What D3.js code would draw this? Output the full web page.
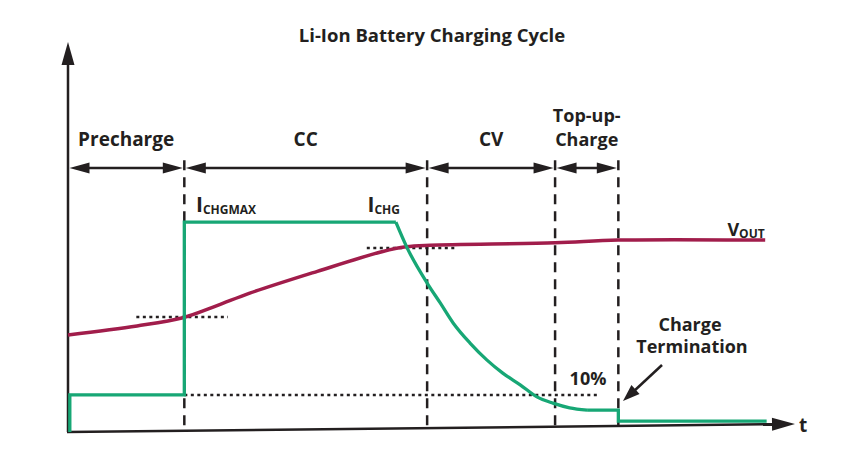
<!DOCTYPE html>
<html>
<head>
<meta charset="utf-8">
<script src="https://cdn.jsdelivr.net/npm/d3@7/dist/d3.min.js"></script>
<style>
  html, body { margin: 0; padding: 0; background: #fff; }
  svg { display: block; }
  text { font-family: "Open Sans", Roboto, sans-serif; font-weight: 700; fill: #231f20; }
</style>
</head>
<body>
<svg id="chart" width="841" height="449"></svg>
<script>
// ---- data (time units 0..100, level units 0..100) ----
const title = "Li-Ion Battery Charging Cycle";
const phaseNames = ["Precharge", "CC", "CV", "Top-up-Charge"];
const phaseBounds = [0, 16, 49.4, 67, 75.7];
const dividerTimes = [16, 49.4, 67, 75.7];
const ichgStep = [[0.25, 0], [0.25, 9.5], [16, 9.5], [16, 53.8], [45.1, 53.8]];
const ichgDecay = [[45.1, 53.8], [46.6, 47.4], [49.4, 38.2], [51.2, 33.1], [53.0, 27.9], [55.3, 22.8],
                   [57.6, 18.5], [59.8, 15.1], [62.2, 12.1], [64.5, 9.0], [66.7, 7.4], [69.0, 6.2], [71.4, 5.6]];
const ichgTail = [[71.4, 5.6], [75.7, 5.6], [75.7, 2.8], [96.1, 2.8]];
const vout = [[0, 24.9], [9.5, 27.2], [15.8, 29.3], [20.5, 32.4], [25, 35.6], [34.3, 41.2], [43.3, 46.3],
              [46.5, 47.5], [49.8, 47.9], [67, 48.5], [75.7, 49.2], [95.9, 49.2]];
const refLines = [[9.4, 22.0, 29.5], [41.1, 53.6, 47.2], [16, 73.2, 9.5]]; // x0, x1, level
const xAxisEnd = [100, 2.05];

const GREEN = "#17a775", RED = "#a11d4b", INK = "#231f20";

const svg = d3.select("#chart");
const x = d3.scaleLinear().domain([0, 100]).range([68, 795]);
const y = d3.scaleLinear().domain([0, 100]).range([432, 42]);

function arrowHead(g, tx, ty, dx, dy, len, hw, color) {
  const n = Math.hypot(dx, dy); dx /= n; dy /= n;
  const bx = tx - dx * len, by = ty - dy * len;
  const px = -dy, py = dx;
  g.append("path")
    .attr("d", `M${tx},${ty}L${bx + px * hw},${by + py * hw}L${bx - px * hw},${by - py * hw}Z`)
    .attr("fill", color || INK);
}

// title
svg.append("text").attr("x", 432).attr("y", 42).attr("text-anchor", "middle")
  .attr("font-size", 18.5).text(title);

// axes
const ax = svg.append("g");
ax.append("line").attr("x1", x(0)).attr("y1", y(0)).attr("x2", x(0)).attr("y2", y(100) + 15)
  .attr("stroke", INK).attr("stroke-width", 2.5);
arrowHead(ax, x(0), y(100), 0, -1, 23, 6.5);
ax.append("line").attr("x1", x(0) - 1).attr("y1", y(0)).attr("x2", x(xAxisEnd[0]) - 15).attr("y2", y(xAxisEnd[1]) + 0.17)
  .attr("stroke", INK).attr("stroke-width", 2.5);
arrowHead(ax, x(xAxisEnd[0]), y(xAxisEnd[1]), x(xAxisEnd[0]) - x(0), y(xAxisEnd[1]) - y(0), 23, 6.5);
svg.append("text").attr("x", x(xAxisEnd[0]) + 4).attr("y", y(xAxisEnd[1]) + 8)
  .attr("font-size", 19).text("t");

// dividers
const axisY = t => y(xAxisEnd[1] * t / 100);
svg.append("g").selectAll("line").data(dividerTimes).join("line")
  .attr("x1", d => x(d)).attr("x2", d => x(d))
  .attr("y1", y(69.7)).attr("y2", d => axisY(d))
  .attr("stroke", INK).attr("stroke-width", 2.5).attr("stroke-dasharray", "10,7");

// phase arrows
const arrowLevel = 67.7;
const pa = svg.append("g");
for (let i = 0; i < phaseNames.length; i++) {
  const a = x(phaseBounds[i]) + 1.5, b = x(phaseBounds[i + 1]) - 1.5, yy = y(arrowLevel);
  pa.append("line").attr("x1", a + 10).attr("x2", b - 10).attr("y1", yy).attr("y2", yy)
    .attr("stroke", INK).attr("stroke-width", 2.5);
  arrowHead(pa, a, yy, -1, 0, 20, 5.5);
  arrowHead(pa, b, yy, 1, 0, 20, 5.5);
}
// phase labels
const lbl = svg.append("g").attr("font-size", 19).attr("text-anchor", "middle");
const mid = i => x((phaseBounds[i] + phaseBounds[i + 1]) / 2);
lbl.append("text").attr("x", mid(0)).attr("y", 146).text(phaseNames[0]);
lbl.append("text").attr("x", mid(1)).attr("y", 146).text(phaseNames[1]);
lbl.append("text").attr("x", mid(2)).attr("y", 146).text(phaseNames[2]);
lbl.append("text").attr("x", mid(3)).attr("y", 122).attr("font-size", 18).text("Top-up-");
lbl.append("text").attr("x", mid(3)).attr("y", 146).attr("font-size", 18).text("Charge");

// reference dotted lines
svg.append("g").selectAll("line").data(refLines).join("line")
  .attr("x1", d => x(d[0])).attr("x2", d => x(d[1]))
  .attr("y1", d => y(d[2])).attr("y2", d => y(d[2]))
  .attr("stroke", INK).attr("stroke-width", 2.5).attr("stroke-dasharray", "3,3.5");

// curves
const lin = d3.line().x(d => x(d[0])).y(d => y(d[1]));
const smooth = d3.line().x(d => x(d[0])).y(d => y(d[1])).curve(d3.curveMonotoneX);
const soft = d3.line().x(d => x(d[0])).y(d => y(d[1])).curve(d3.curveCatmullRom.alpha(0.5));
svg.append("path").attr("d", soft(vout)).attr("fill", "none").attr("stroke", RED).attr("stroke-width", 3.5);
const gg = svg.append("g").attr("fill", "none").attr("stroke", GREEN).attr("stroke-width", 3.3)
  .attr("stroke-linejoin", "miter");
gg.append("path").attr("d", lin(ichgStep));
gg.append("path").attr("d", smooth(ichgDecay));
gg.append("path").attr("d", lin(ichgTail));

// signal labels
function subLabel(px, py, main, sub, mainSize, subSize, color) {
  const t = svg.append("text").attr("x", px).attr("y", py).attr("fill", color);
  t.append("tspan").attr("font-size", mainSize).text(main);
  t.append("tspan").attr("font-size", subSize).attr("dy", 2).text(sub);
}
subLabel(x(17.6), 212, "I", "CHGMAX", 21, 12, INK);
subLabel(x(41.2), 212, "I", "CHG", 21, 12, GREEN);
subLabel(x(90.7), 236, "V", "OUT", 18, 12, RED);

// annotations
svg.append("text").attr("x", 588).attr("y", 385).attr("text-anchor", "middle").attr("font-size", 18).text("10%");
svg.append("text").attr("x", 690).attr("y", 331).attr("text-anchor", "middle").attr("font-size", 18).text("Charge");
svg.append("text").attr("x", 692).attr("y", 353).attr("text-anchor", "middle").attr("font-size", 18).text("Termination");
const tg = svg.append("g");
tg.append("line").attr("x1", 662).attr("y1", 365).attr("x2", 633).attr("y2", 392)
  .attr("stroke", INK).attr("stroke-width", 2.5);
arrowHead(tg, 623, 401, 623 - 662, 401 - 365, 17, 6);
</script>
</body>
</html>
